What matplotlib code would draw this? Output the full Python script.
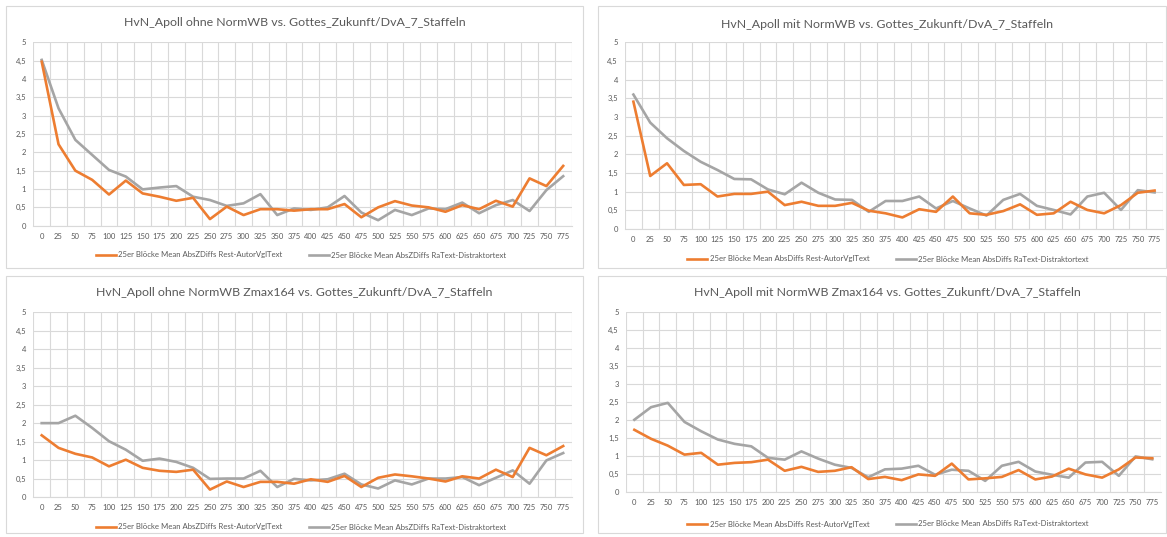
import matplotlib
matplotlib.use("Agg")
import matplotlib.pyplot as plt
from matplotlib.patches import Rectangle
import numpy as np

plt.rcParams['font.family'] = ['Lato', 'DejaVu Sans']

# x categories: block starts 0, 25, ..., 775
blocks = [str(v) for v in range(0, 800, 25)]
y_ticks = [0, 0.5, 1, 1.5, 2, 2.5, 3, 3.5, 4, 4.5, 5]
y_ticklabels = ["0", "0,5", "1", "1,5", "2", "2,5", "3", "3,5", "4", "4,5", "5"]

# top left: ohne NormWB
ohne_rest = [4.47, 2.22, 1.5, 1.25, 0.85, 1.23, 0.88, 0.79, 0.68, 0.76, 0.18, 0.52,
             0.29, 0.45, 0.45, 0.41, 0.45, 0.45, 0.59, 0.23, 0.5, 0.67, 0.55, 0.5,
             0.38, 0.56, 0.45, 0.68, 0.52, 1.29, 1.08, 1.63]
ohne_distr = [4.52, 3.2, 2.34, 1.93, 1.52, 1.34, 0.99, 1.04, 1.08, 0.79, 0.7, 0.54,
              0.61, 0.86, 0.29, 0.47, 0.43, 0.5, 0.81, 0.36, 0.15, 0.43, 0.29, 0.47,
              0.45, 0.63, 0.34, 0.56, 0.7, 0.4, 0.97, 1.35]

# top right: mit NormWB
mit_rest = [3.41, 1.42, 1.76, 1.18, 1.2, 0.87, 0.94, 0.94, 1.0, 0.64, 0.73, 0.62,
            0.62, 0.7, 0.49, 0.42, 0.31, 0.53, 0.46, 0.87, 0.42, 0.38, 0.48, 0.66,
            0.38, 0.42, 0.73, 0.51, 0.42, 0.64, 0.97, 1.03]
mit_distr = [3.6, 2.85, 2.43, 2.09, 1.8, 1.58, 1.34, 1.33, 1.06, 0.93, 1.24, 0.97,
             0.79, 0.78, 0.46, 0.75, 0.75, 0.87, 0.55, 0.75, 0.55, 0.36, 0.78, 0.94,
             0.62, 0.51, 0.39, 0.87, 0.97, 0.51, 1.04, 0.98]

# bottom left: ohne NormWB Zmax164
ohne_z_rest = [1.67, 1.33, 1.17, 1.07, 0.83, 1.01, 0.79, 0.71, 0.68, 0.74, 0.2, 0.42,
               0.27, 0.41, 0.41, 0.36, 0.48, 0.41, 0.57, 0.27, 0.52, 0.61, 0.56, 0.5,
               0.42, 0.56, 0.5, 0.74, 0.54, 1.33, 1.13, 1.38]
ohne_z_distr = [2.0, 2.0, 2.2, 1.87, 1.51, 1.28, 0.98, 1.04, 0.95, 0.79, 0.49, 0.5,
                0.5, 0.71, 0.27, 0.49, 0.45, 0.48, 0.63, 0.34, 0.23, 0.45, 0.34, 0.5,
                0.5, 0.54, 0.32, 0.52, 0.72, 0.36, 0.99, 1.19]

# bottom right: mit NormWB Zmax164
mit_z_rest = [1.73, 1.48, 1.29, 1.04, 1.09, 0.76, 0.81, 0.83, 0.9, 0.59, 0.7, 0.56,
              0.59, 0.69, 0.36, 0.42, 0.33, 0.49, 0.45, 0.79, 0.35, 0.38, 0.42, 0.61,
              0.35, 0.43, 0.65, 0.49, 0.4, 0.63, 0.96, 0.94]
mit_z_distr = [2.01, 2.36, 2.48, 1.95, 1.69, 1.46, 1.34, 1.27, 0.95, 0.9, 1.13, 0.93,
               0.76, 0.67, 0.41, 0.63, 0.65, 0.73, 0.48, 0.62, 0.59, 0.31, 0.73, 0.84,
               0.57, 0.48, 0.4, 0.82, 0.84, 0.45, 0.99, 0.91]

W, H = 1167, 537
ORANGE = "#ED7D31"
GRAY = "#A5A5A5"
GRID = "#D9D9D9"
TEXT = "#595959"

fig = plt.figure(figsize=(W / 100, H / 100), dpi=100)
fig.patch.set_facecolor("white")


def px_rect(x0, y0, x1, y1):
    return [x0 / W, 1 - y1 / H, (x1 - x0) / W, (y1 - y0) / H]


def panel(box, area, title, title_xy, legend_xy, rest, distr, zdiffs):
    fig.patches.append(Rectangle((box[0] / W, 1 - box[3] / H),
                                 (box[2] - box[0]) / W, (box[3] - box[1]) / H,
                                 transform=fig.transFigure, facecolor="none",
                                 edgecolor=GRID, lw=0.8, zorder=-1))
    ax = fig.add_axes(px_rect(*area))
    x = np.arange(len(blocks))
    diff = "AbsZDiffs" if zdiffs else "AbsDiffs"
    ax.plot(x, rest, color=ORANGE, lw=1.9, solid_joinstyle="round",
            label="25er Blöcke Mean %s Rest-AutorVglText" % diff, zorder=3)
    ax.plot(x, distr, color=GRAY, lw=1.9, solid_joinstyle="round",
            label="25er Blöcke Mean %s RaText-Distraktortext" % diff, zorder=2)
    ax.set_xlim(-0.5, len(blocks) - 0.5)
    ax.set_ylim(0, 5)
    ax.set_xticks(x)
    ax.set_xticklabels(blocks, fontsize=5.5, color=TEXT)
    ax.set_xticks(np.arange(-0.5, len(blocks)), minor=True)
    ax.set_yticks(y_ticks)
    ax.set_yticklabels(y_ticklabels, fontsize=5.5, color=TEXT)
    ax.tick_params(which="both", length=0, pad=5)
    ax.grid(True, which="major", axis="y", color=GRID, lw=0.8)
    ax.grid(True, which="minor", axis="x", color=GRID, lw=0.8)
    for s in ["top", "right", "left"]:
        ax.spines[s].set_visible(False)
    ax.spines["bottom"].set_color(GRID)
    ax.set_facecolor("none")
    fig.text(title_xy[0] / W, 1 - title_xy[1] / H, title, ha="center", va="center",
             fontsize=8.9, color=TEXT)
    ax.legend(loc="center", bbox_to_anchor=(legend_xy[0] / W, 1 - legend_xy[1] / H),
              bbox_transform=fig.transFigure, ncol=2, frameon=False, fontsize=5.6,
              labelcolor=TEXT, handlelength=2.6, columnspacing=3.4, handletextpad=0.3)


panel((6, 6, 583, 268), (33.3, 42.3, 571.6, 225.7),
      "HvN_Apoll ohne NormWB vs. Gottes_Zukunft/DvA_7_Staffeln", (295, 22), (301, 255),
      ohne_rest, ohne_distr, True)
panel((598, 6, 1166, 268), (625, 42.3, 1163, 229),
      "HvN_Apoll mit NormWB vs. Gottes_Zukunft/DvA_7_Staffeln", (887, 24), (888, 259),
      mit_rest, mit_distr, False)
panel((6, 276, 583, 533), (33.3, 312.3, 571.6, 497),
      "HvN_Apoll ohne NormWB Zmax164 vs. Gottes_Zukunft/DvA_7_Staffeln", (294, 293), (301, 527),
      ohne_z_rest, ohne_z_distr, True)
panel((598, 276, 1166, 533), (626, 312.3, 1160.6, 492),
      "HvN_Apoll mit NormWB Zmax164 vs. Gottes_Zukunft/DvA_7_Staffeln", (887, 293), (888, 524),
      mit_z_rest, mit_z_distr, False)

fig.savefig("out.png", dpi=100)
